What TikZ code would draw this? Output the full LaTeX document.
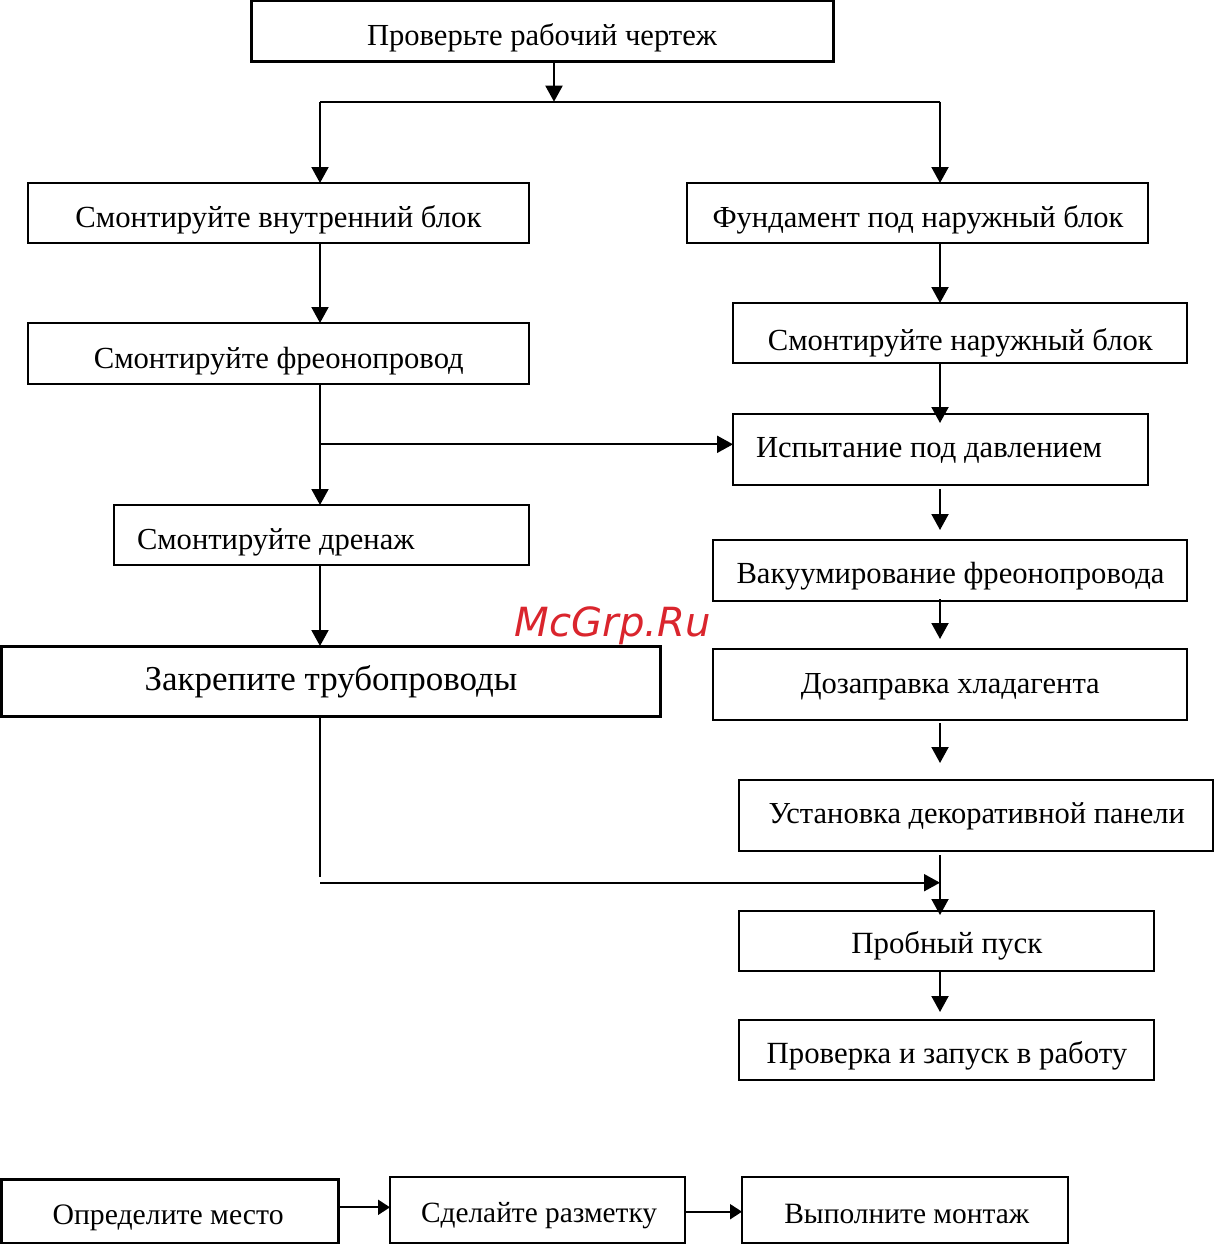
\documentclass[tikz,border=0pt]{standalone}
\usepackage{fontspec}
\setmainfont{Liberation Serif}
\newfontfamily\wmfont{DejaVu Sans}
\usetikzlibrary{arrows.meta}
\definecolor{wmred}{RGB}{218,37,45}
\newcommand\fitw[2]{\resizebox{#1pt}{!}{#2}}
\begin{document}
\begin{tikzpicture}[x=1pt,y=-1pt,
  box/.style={draw,line width=2pt,inner sep=0pt,outer sep=0pt},
  thickbox/.style={box,line width=3pt},
  txt/.style={anchor=base west,inner sep=0pt,outer sep=0pt,font=\fontsize{28}{32}\selectfont},
  ln/.style={line width=2pt},
  arr/.style={-{Triangle[width=17pt,length=16pt]}},
  sarr/.style={-{Triangle[width=15pt,length=12pt]}}]
\fill[white] (0,0) rectangle (1215,1244);
\useasboundingbox (0,0) rectangle (1215,1244);
% boxes
\node[thickbox,minimum width=582pt,minimum height=61pt] (b1) at (542,31.5) {};
\node[box,minimum width=501pt,minimum height=60pt] (b2) at (278.5,213) {};
\node[box,minimum width=461pt,minimum height=60pt] (b3) at (917.5,213) {};
\node[box,minimum width=501pt,minimum height=61pt] (b4) at (278.5,353.5) {};
\node[box,minimum width=454pt,minimum height=60pt] (b5) at (960,333) {};
\node[box,minimum width=415pt,minimum height=71pt] (b6) at (940.5,449.5) {};
\node[box,minimum width=415pt,minimum height=60pt] (b7) at (321.5,535) {};
\node[box,minimum width=474pt,minimum height=61pt] (b8) at (950,570.5) {};
\node[thickbox,minimum width=659pt,minimum height=70pt] (b9) at (330.5,681) {};
\node[box,minimum width=474pt,minimum height=71pt] (b10) at (950,684.5) {};
\node[box,minimum width=474pt,minimum height=71pt] (b11) at (976,815.5) {};
\node[box,minimum width=415pt,minimum height=60pt] (b12) at (946.5,941) {};
\node[box,minimum width=415pt,minimum height=60pt] (b13) at (946.5,1050) {};
\node[thickbox,minimum width=337pt,minimum height=64pt] (b14) at (169.5,1211) {};
\node[box,minimum width=295pt,minimum height=66pt] (b15) at (537.5,1210) {};
\node[box,minimum width=326pt,minimum height=66pt] (b16) at (905,1210) {};
% texts
\node[txt] (t1) at (367,45.5) {\fitw{350}{Проверьте рабочий чертеж}};
\node[txt] (t2) at (75.4,227) {\fitw{406}{Смонтируйте внутренний блок}};
\node[txt] (t3) at (712.5,227.5) {\fitw{411}{Фундамент под наружный блок}};
\node[txt] (t4) at (93.8,368.5) {\fitw{370}{Смонтируйте фреонопровод}};
\node[txt] (t5) at (767.8,350.5) {\fitw{385}{Смонтируйте наружный блок}};
\node[txt] (t6) at (756,457.5) {\fitw{346}{Испытание под давлением}};
\node[txt] (t7) at (137,549) {\fitw{277.5}{Смонтируйте дренаж}};
\node[txt] (t8) at (736.5,583.5) {\fitw{428}{Вакуумирование фреонопровода}};
\node[txt] (t9) at (144.7,690.5) {\fitw{372.7}{Закрепите трубопроводы}};
\node[txt] (t10) at (800.8,693.5) {\fitw{299}{Дозаправка хладагента}};
\node[txt] (t11) at (768.5,823.5) {\fitw{416.5}{Установка декоративной панели}};
\node[txt] (t12) at (851.3,953.5) {\fitw{191}{Пробный пуск}};
\node[txt] (t13) at (766.7,1063.5) {\fitw{360.6}{Проверка и запуск в работу}};
\node[txt] (t14) at (52.6,1224.5) {\fitw{231}{Определите место}};
\node[txt] (t15) at (421,1222) {\fitw{236}{Сделайте разметку}};
\node[txt] (t16) at (784.3,1223) {\fitw{245}{Выполните монтаж}};
\node[txt,text=wmred] (wm) at (514.7,636.7) {\fitw{196}{\wmfont\itshape McGrp.Ru}};
% junction coordinates
\coordinate (cL) at (320,0);
\coordinate (cR) at (940,0);
\coordinate (j1) at (554,101.7);
\coordinate (jL) at (320,101.7);
\coordinate (jR) at (940,101.7);
\coordinate (jB) at (320,444.3);
\coordinate (jC) at (320,876.7);
\coordinate (jD) at (320,882.7);
\coordinate (jE) at (940,882.7);
\coordinate (yA) at (0,1207.3);
\coordinate (yB) at (0,1211.7);
% connectors
\draw[ln,arr] (j1 |- b1.south) -- (j1);
\draw[ln] (jL) -- (jR);
\draw[ln,arr] (jL) -- (jL |- b2.north);
\draw[ln,arr] (jR) -- (jR |- b3.north);
\draw[ln,arr] (cL |- b2.south) -- (cL |- b4.north);
\draw[ln,arr] (cR |- b3.south) -- (cR |- b5.north);
\draw[ln,arr] (cR |- b5.south) -- ([yshift=-9pt]cR |- b6.north);
\draw[ln,arr] (cL |- b4.south) -- (cL |- b7.north);
\draw[ln,arr] (jB) -- (jB -| b6.west);
\draw[ln,arr] ([yshift=-4pt]cR |- b6.south) -- ([yshift=10pt]cR |- b8.north);
\draw[ln,arr] (cL |- b7.south) -- (cL |- b9.north);
\draw[ln,arr] ([yshift=2pt]cR |- b8.south) -- ([yshift=10pt]cR |- b10.north);
\draw[ln,arr] ([yshift=-3pt]cR |- b10.south) -- ([yshift=17pt]cR |- b11.north);
\draw[ln] (cL |- b9.south) -- (jC);
\draw[ln,arr] (jD) -- (jE);
\draw[ln,arr] ([yshift=-4pt]cR |- b11.south) -- ([yshift=-4pt]cR |- b12.north);
\draw[ln,arr] (cR |- b12.south) -- ([yshift=8pt]cR |- b13.north);
\draw[ln,sarr] (b14.east |- yA) -- (b15.west |- yA);
\draw[ln,sarr] (b15.east |- yB) -- (b16.west |- yB);
\end{tikzpicture}
\end{document}
